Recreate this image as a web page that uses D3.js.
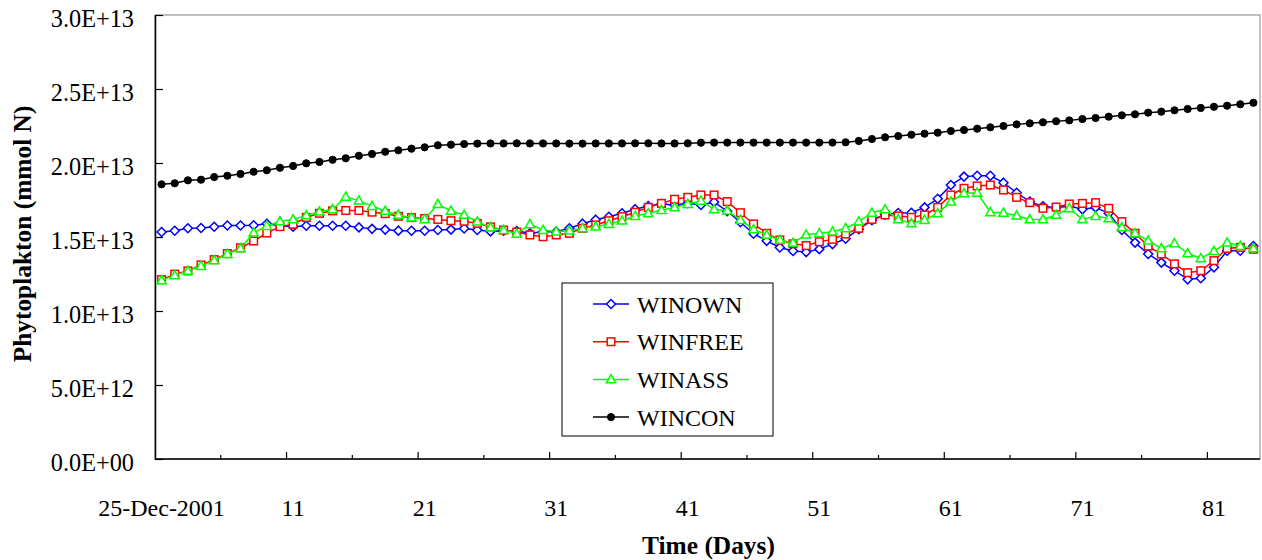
<!DOCTYPE html>
<html lang="en">
<head>
<meta charset="UTF-8">
<script src="https://d3js.org/d3.v7.min.js"></script>
<title>Phytoplakton</title>
<style>
  body { margin: 0; background: #fff; }
  svg { display: block; font-family: "Liberation Serif", "Times New Roman", serif; }
</style>
</head>
<body>
<script>
var width = 1262, height = 560;
var plot = {left: 155, right: 1260, top: 15, bottom: 459};

// days on the category axis
var days = d3.range(1, 85);
var tickDays = [1, 11, 21, 31, 41, 51, 61, 71, 81];
var tickLabels = ["25-Dec-2001", "11", "21", "31", "41", "51", "61", "71", "81"];
var minorDays = [6, 16, 26, 36, 46, 56, 66, 76];
var yTicks = [0, 5e12, 1e13, 1.5e13, 2e13, 2.5e13, 3e13];

// values in units of 1E+12 mmol N
var winown = [
  15.34, 15.42, 15.59, 15.61, 15.69, 15.78, 15.78, 15.79, 15.89, 15.76,
  15.70, 15.76, 15.76, 15.76, 15.76, 15.65, 15.55, 15.50, 15.43, 15.42,
  15.42, 15.47, 15.50, 15.58, 15.47, 15.38, 15.42, 15.40, 15.25, 15.35,
  15.36, 15.59, 15.90, 16.17, 16.37, 16.60, 16.88, 17.09, 17.23, 17.16,
  17.28, 17.16, 17.36, 16.74, 16.00, 15.22, 14.74, 14.29, 14.05, 13.98,
  14.18, 14.52, 14.88, 15.53, 16.13, 16.50, 16.62, 16.64, 17.00, 17.58,
  18.51, 19.08, 19.14, 19.14, 18.67, 17.99, 17.39, 17.07, 16.97, 17.09,
  16.87, 17.00, 16.60, 15.47, 14.62, 13.85, 13.27, 12.72, 12.14, 12.21,
  12.95, 14.07, 14.07, 14.39
];
var winfree = [
  12.12, 12.49, 12.71, 13.11, 13.47, 13.88, 14.27, 14.73, 15.27, 15.70,
  15.86, 16.32, 16.60, 16.77, 16.79, 16.79, 16.68, 16.58, 16.40, 16.31,
  16.25, 16.19, 16.10, 16.06, 15.92, 15.68, 15.47, 15.33, 15.14, 15.02,
  15.14, 15.25, 15.59, 15.81, 16.10, 16.37, 16.67, 17.00, 17.27, 17.55,
  17.68, 17.84, 17.84, 17.39, 16.64, 15.88, 15.25, 14.80, 14.54, 14.42,
  14.68, 14.84, 15.20, 15.59, 16.19, 16.49, 16.42, 16.33, 16.49, 17.00,
  17.84, 18.29, 18.45, 18.51, 18.18, 17.68, 17.32, 16.94, 17.02, 17.23,
  17.27, 17.32, 16.94, 16.04, 15.25, 14.39, 13.85, 13.18, 12.59, 12.72,
  13.40, 14.23, 14.30, 14.17
];
var winass = [
  12.07, 12.41, 12.71, 13.04, 13.42, 13.85, 14.23, 15.29, 15.74, 16.06,
  16.19, 16.46, 16.71, 16.87, 17.72, 17.46, 17.09, 16.76, 16.49, 16.31,
  16.20, 17.22, 16.76, 16.49, 16.04, 15.65, 15.47, 15.22, 15.86, 15.47,
  15.36, 15.43, 15.59, 15.70, 15.88, 16.10, 16.42, 16.60, 16.82, 17.00,
  17.23, 17.45, 16.87, 16.78, 16.15, 15.52, 15.14, 14.80, 14.60, 15.16,
  15.25, 15.36, 15.59, 16.04, 16.64, 16.87, 16.19, 15.92, 16.15, 16.60,
  17.39, 17.95, 17.99, 16.67, 16.64, 16.44, 16.19, 16.19, 16.49, 16.94,
  16.19, 16.42, 16.26, 15.65, 15.25, 14.75, 14.23, 14.57, 13.90, 13.56,
  14.05, 14.62, 14.39, 14.23
];
var wincon = [
  18.56, 18.63, 18.83, 18.87, 19.05, 19.14, 19.26, 19.41, 19.51, 19.68,
  19.80, 19.98, 20.07, 20.22, 20.32, 20.49, 20.61, 20.76, 20.86, 20.97,
  21.06, 21.20, 21.24, 21.28, 21.31, 21.32, 21.32, 21.33, 21.32, 21.32,
  21.32, 21.31, 21.31, 21.32, 21.32, 21.32, 21.33, 21.33, 21.32, 21.32,
  21.33, 21.37, 21.38, 21.38, 21.38, 21.38, 21.38, 21.38, 21.38, 21.38,
  21.38, 21.38, 21.40, 21.49, 21.62, 21.74, 21.82, 21.91, 21.98, 22.05,
  22.16, 22.23, 22.32, 22.41, 22.50, 22.61, 22.68, 22.75, 22.82, 22.88,
  22.97, 23.04, 23.13, 23.22, 23.29, 23.40, 23.47, 23.56, 23.65, 23.72,
  23.80, 23.87, 23.97, 24.07
];
var unit = 1e12;

var seriesNames = ["WINOWN", "WINFREE", "WINASS", "WINCON"];
var seriesValues = [winown, winfree, winass, wincon];
var seriesColors = ["#0000ff", "#ff0000", "#00ff00", "#000000"];
var seriesMarkers = ["diamond", "square", "triangle", "circle"];

var svg = d3.select("body").append("svg")
    .attr("width", width)
    .attr("height", height);

var x = d3.scaleBand()
    .domain(days)
    .range([plot.left, plot.right])
    .padding(0);
var xc = function (d) { return x(d) + x.bandwidth() / 2; };

var y = d3.scaleLinear()
    .domain([0, 3e13])
    .range([plot.bottom, plot.top]);

// plot frame
svg.append("rect")
    .attr("x", plot.left).attr("y", plot.top)
    .attr("width", plot.right - plot.left).attr("height", plot.bottom - plot.top)
    .attr("fill", "none").attr("stroke", "#808080").attr("stroke-width", 1);

function fmtE(v) {
  if (v === 0) return "0.0E+00";
  var e = Math.floor(Math.log10(v) + 1e-9);
  var m = v / Math.pow(10, e);
  return m.toFixed(1) + "E+" + (e < 10 ? "0" + e : e);
}

// y axis, ticks pointing inside
var yAxis = d3.axisLeft(y)
    .tickValues(yTicks)
    .tickFormat(fmtE)
    .tickSizeInner(-8)
    .tickSizeOuter(0)
    .tickPadding(21);
var gy = svg.append("g")
    .attr("transform", "translate(" + plot.left + ",0)")
    .call(yAxis);
gy.select(".domain").attr("stroke", "#000").attr("stroke-width", 1.5);
gy.selectAll(".tick line").attr("stroke", "#000").attr("stroke-width", 1.2);
gy.selectAll(".tick text")
    .attr("font-family", "Liberation Serif")
    .attr("font-size", 24.3)
    .attr("fill", "#000")
    .attr("dy", "0.46em");

// x axis line
var gx = svg.append("g");
gx.append("line")
    .attr("x1", plot.left).attr("x2", plot.right)
    .attr("y1", plot.bottom).attr("y2", plot.bottom)
    .attr("stroke", "#000").attr("stroke-width", 1.5);
gx.selectAll(".major").data(tickDays.slice(1)).enter().append("line")
    .attr("x1", function (d) { return x(d); }).attr("x2", function (d) { return x(d); })
    .attr("y1", plot.bottom).attr("y2", plot.bottom - 7)
    .attr("stroke", "#000").attr("stroke-width", 1.2);
gx.selectAll(".minor").data(minorDays).enter().append("line")
    .attr("x1", function (d) { return x(d); }).attr("x2", function (d) { return x(d); })
    .attr("y1", plot.bottom).attr("y2", plot.bottom - 4)
    .attr("stroke", "#000").attr("stroke-width", 1.2);
gx.selectAll("text").data(tickDays).enter().append("text")
    .attr("x", function (d) { return xc(d); })
    .attr("y", 516)
    .attr("text-anchor", "middle")
    .attr("font-size", 24)
    .text(function (d, i) { return tickLabels[i]; });

// axis titles
svg.append("text")
    .attr("x", (plot.left + plot.right) / 2 + 1)
    .attr("y", 554)
    .attr("text-anchor", "middle")
    .attr("font-size", 25.4)
    .attr("font-weight", "bold")
    .text("Time (Days)");
svg.append("text")
    .attr("transform", "translate(31," + ((plot.top + plot.bottom) / 2 - 3) + ") rotate(-90)")
    .attr("text-anchor", "middle")
    .attr("font-size", 25.4)
    .attr("font-weight", "bold")
    .text("Phytoplakton (mmol N)");

// markers
function marker(g, type, color) {
  if (type === "diamond") {
    g.append("path").attr("d", "M0,-4.5L4.5,0L0,4.5L-4.5,0Z")
      .attr("fill", "#fff").attr("stroke", color).attr("stroke-width", 1.5);
  } else if (type === "square") {
    g.append("rect").attr("x", -3.8).attr("y", -3.8).attr("width", 7.6).attr("height", 7.6)
      .attr("fill", "#fff").attr("stroke", color).attr("stroke-width", 1.5);
  } else if (type === "triangle") {
    g.append("path").attr("d", "M0,-4.8L4.6,3.4L-4.6,3.4Z")
      .attr("fill", "#fff").attr("stroke", color).attr("stroke-width", 1.5);
  } else {
    g.append("circle").attr("r", 3.6).attr("fill", color).attr("stroke", color).attr("stroke-width", 1);
  }
}

var line = d3.line()
    .x(function (d, i) { return xc(days[i]); })
    .y(function (d) { return y(d * unit); });

seriesValues.forEach(function (vals, s) {
  var g = svg.append("g");
  g.append("path")
    .attr("d", line(vals))
    .attr("fill", "none")
    .attr("stroke", seriesColors[s])
    .attr("stroke-width", 1.5);
  g.selectAll("g").data(vals).enter().append("g")
    .attr("transform", function (d, i) { return "translate(" + xc(days[i]) + "," + y(d * unit) + ")"; })
    .each(function () { marker(d3.select(this), seriesMarkers[s], seriesColors[s]); });
});

// legend
var legend = svg.append("g");
legend.append("rect")
    .attr("x", 562).attr("y", 283).attr("width", 211).attr("height", 153)
    .attr("fill", "#fff").attr("stroke", "#000").attr("stroke-width", 1);
seriesNames.forEach(function (name, i) {
  var ly = 304 + i * 37.7;
  legend.append("line")
    .attr("x1", 593).attr("x2", 629).attr("y1", ly).attr("y2", ly)
    .attr("stroke", seriesColors[i]).attr("stroke-width", 1.5);
  var m = legend.append("g").attr("transform", "translate(611," + ly + ")");
  marker(m, seriesMarkers[i], seriesColors[i]);
  legend.append("text")
    .attr("x", 637).attr("y", ly + 8.5)
    .attr("font-size", 24)
    .text(name);
});
</script>
</body>
</html>
